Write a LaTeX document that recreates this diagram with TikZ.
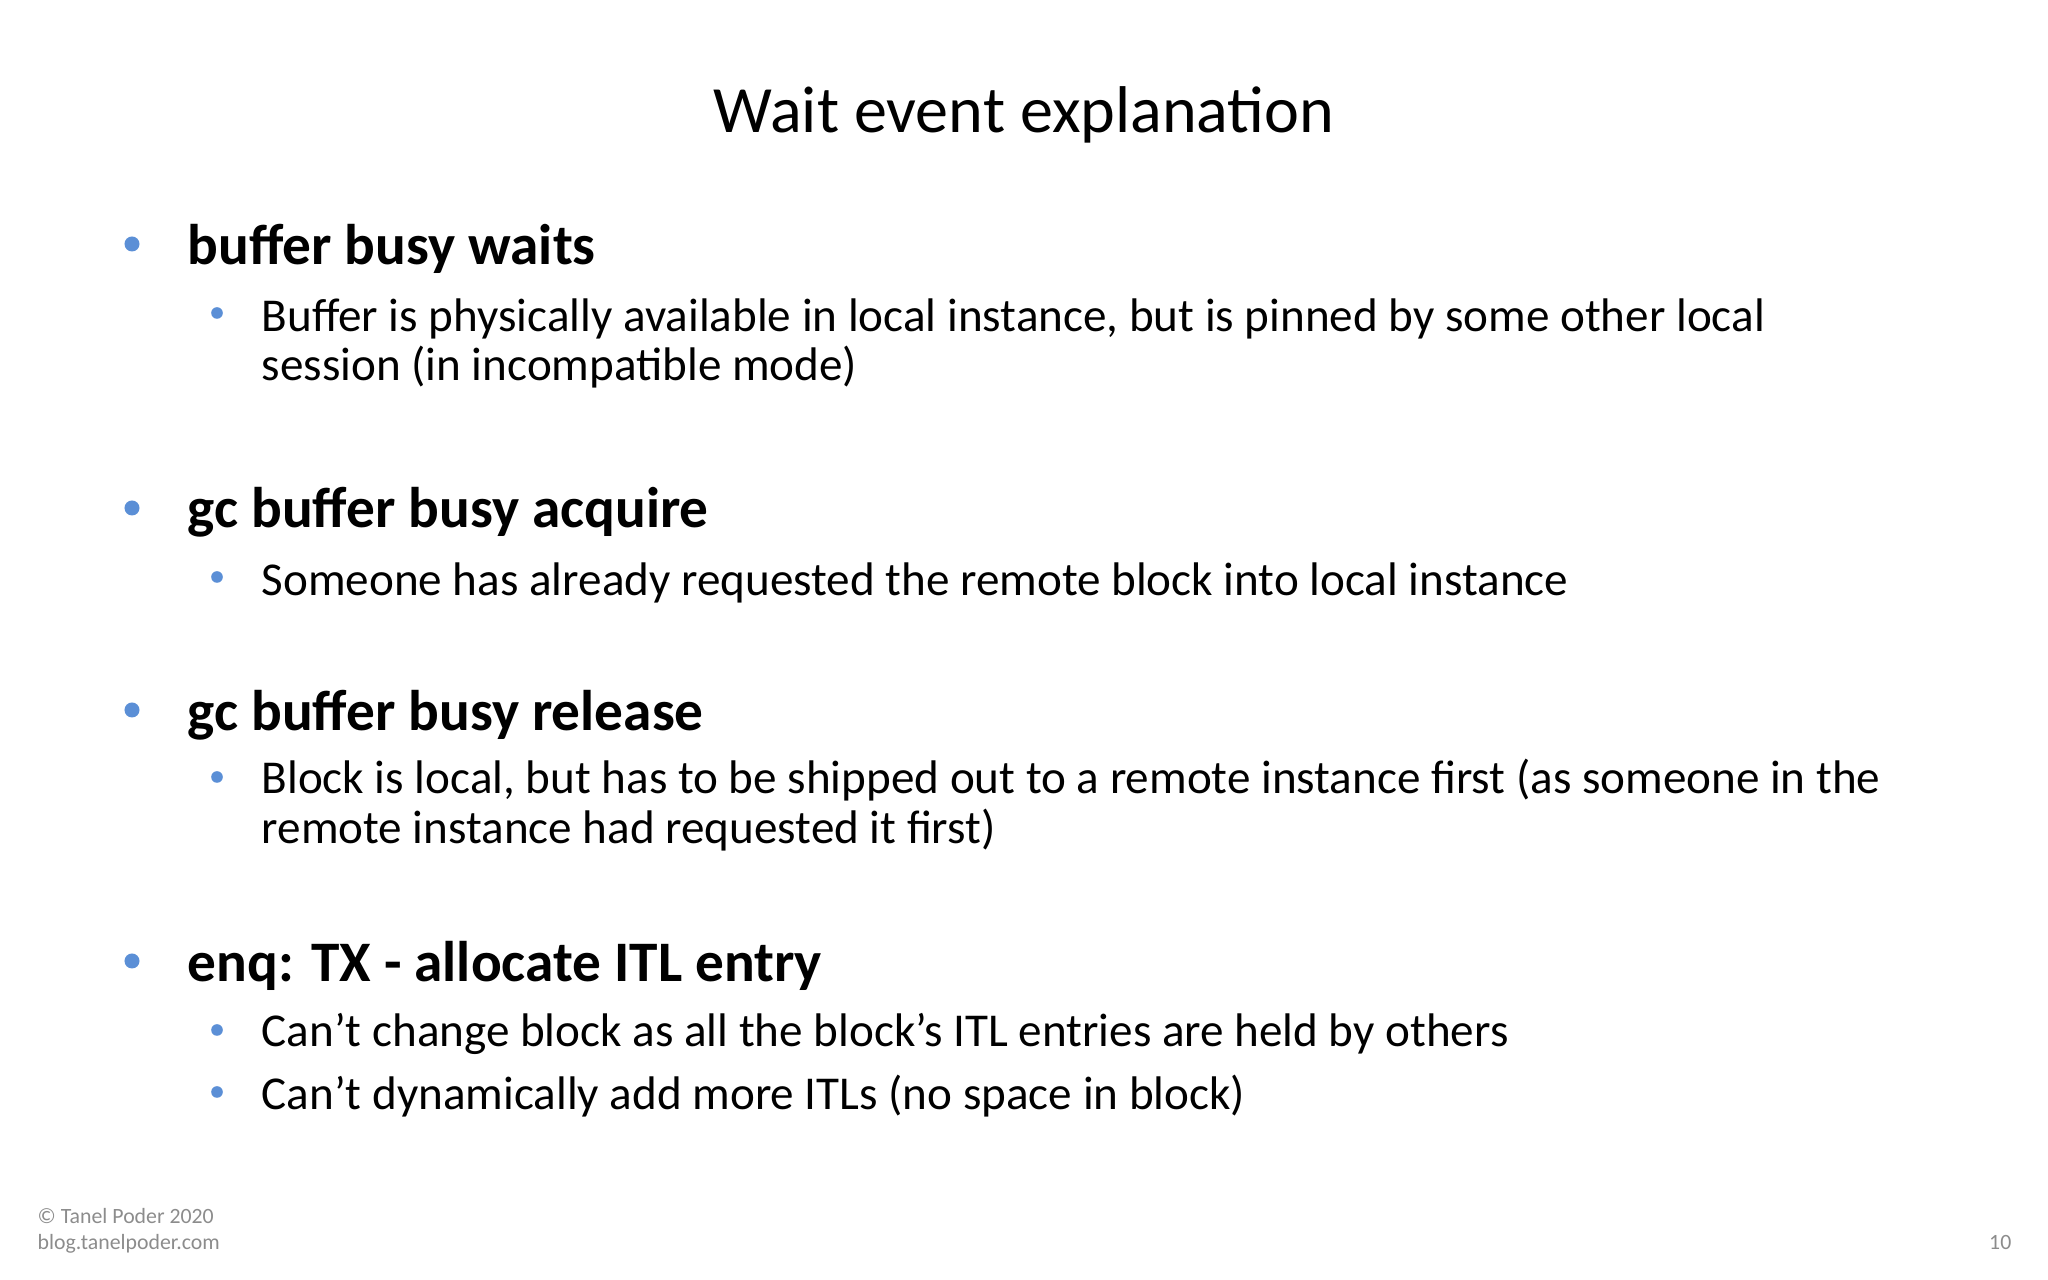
\documentclass[tikz,border=0pt]{standalone}
\usepackage{fontspec}
\setmainfont{Carlito}
\definecolor{bul}{HTML}{5B8FD6}
\definecolor{foot}{HTML}{8C8C8C}
\newcommand{\apo}{\symbol{"27}}
\begin{document}
\begin{tikzpicture}[x=0.01cm,y=-0.01cm,
  head/.style={anchor=base west,inner sep=0,font=\fontsize{16.3}{20}\selectfont\bfseries},
  sub/.style={anchor=base west,inner sep=0,font=\fontsize{13.4}{17}\selectfont},
  foottxt/.style={anchor=base west,inner sep=0,font=\fontsize{6.2}{8}\selectfont,text=foot}]
\useasboundingbox (0,0) rectangle (2048,1280);
\node[anchor=base,inner sep=0,font=\fontsize{18.8}{23}\selectfont] (title) at (1024,133) {Wait event explanation};
\foreach \y in {244,508,710,961} \fill[bul] (132,\y) circle (0.075cm);
\foreach \y in {313,577,777,1030,1092} \fill[bul] (217,\y) circle (0.058cm);
\node[head] (h1) at (187,265) {buffer busy waits};
\node[sub] (s1a) at (261,332) {Buffer is physically available in local instance, but is pinned by some other local};
\node[sub] (s1b) at (261,381) {session (in incompatible mode)};
\node[head] (h2) at (187,528) {gc buffer busy acquire};
\node[sub] (s2) at (261,596) {Someone has already requested the remote block into local instance};
\node[head] (h3) at (187,731) {gc buffer busy release};
\node[sub] (s3a) at (261,794) {Block is local, but has to be shipped out to a remote instance first (as someone in the};
\node[sub] (s3b) at (261,844) {remote instance had requested it first)};
\node[head] (h4) at (187,982) {enq: TX - allocate ITL entry};
\node[sub] (s4a) at (261,1047) {Can\apo t change block as all the block\apo s ITL entries are held by others};
\node[sub] (s4b) at (261,1110) {Can\apo t dynamically add more ITLs (no space in block)};
\node[foottxt] (f1) at (37,1224) {© Tanel Poder 2020};
\node[foottxt] (f2) at (37,1250) {blog.tanelpoder.com};
\node[foottxt,anchor=base east] (pg) at (2012,1250) {10};
\end{tikzpicture}
\end{document}
